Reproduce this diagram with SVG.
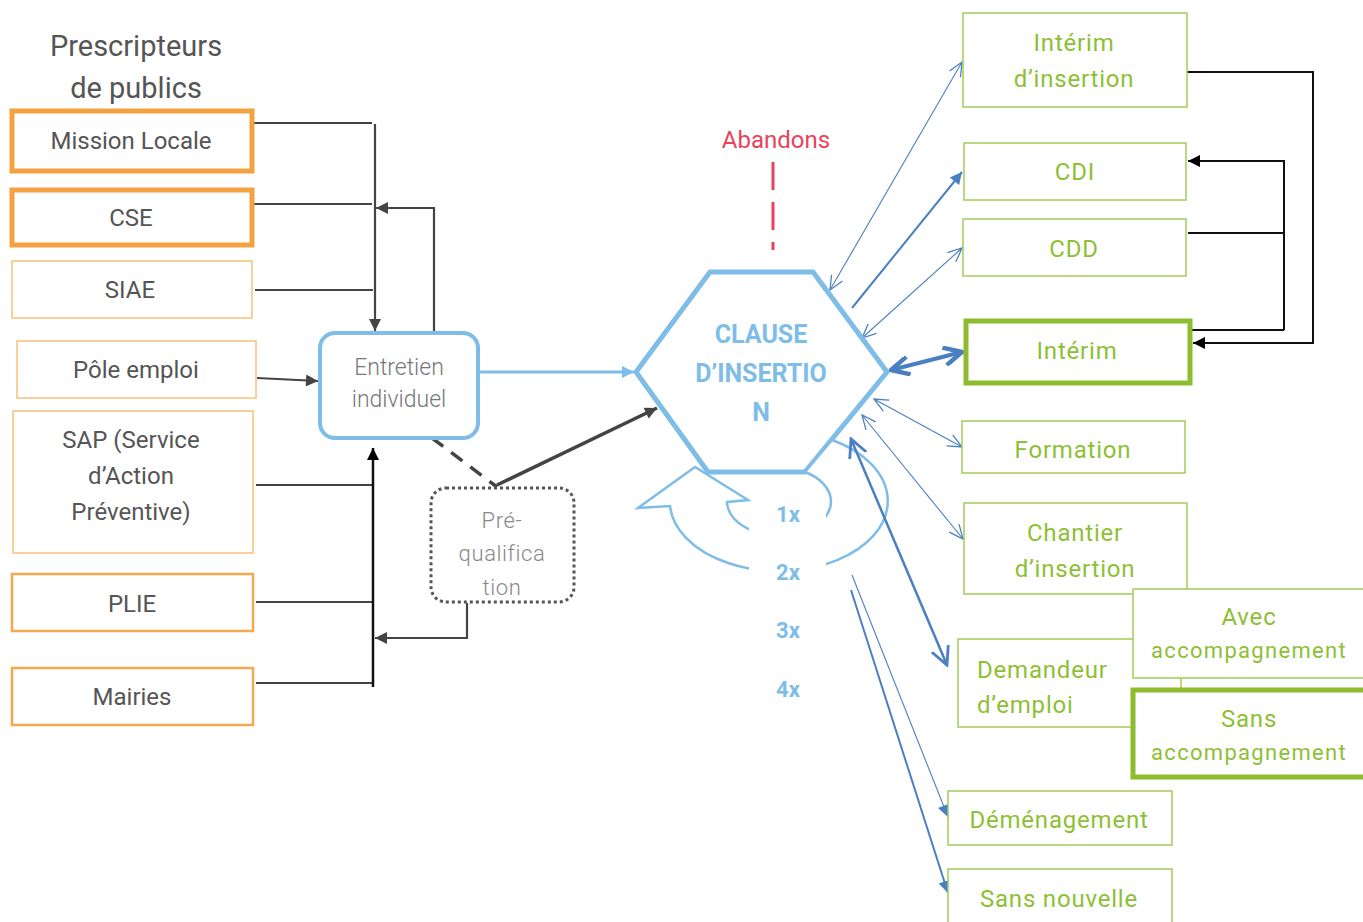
<svg xmlns="http://www.w3.org/2000/svg" width="1363" height="922" viewBox="0 0 1363 922">
<style>
.t{font-family:Roboto,"Liberation Sans",sans-serif}
.gray{fill:#555;font-size:24px}
.green{fill:#8dbf35;font-size:24px;letter-spacing:0.8px}
.acc{font-size:22px;letter-spacing:1.3px}
.blueT{fill:#7dbde8;font-weight:bold}
.or1{fill:#fff;stroke:#f4a142;stroke-width:5}
.or2{fill:#fff;stroke:#f5a84e;stroke-width:2.5}
.or3{fill:#fff;stroke:#f9c07a;stroke-width:1.5}
.gr1{fill:#fff;stroke:#a3cc5a;stroke-width:1.5}
.gr2{fill:#fff;stroke:#8fbc2e;stroke-width:5}
.dk{stroke:#444;stroke-width:2.2;fill:none}
.bk{stroke:#111;stroke-width:2;fill:none}
.bl{stroke:#4a7fc1;fill:none}
</style>
<defs>
<marker id="aDark" viewBox="0 0 10 10" refX="10" refY="5" markerWidth="14" markerHeight="12" markerUnits="userSpaceOnUse" orient="auto"><path d="M0,0 L10,5 L0,10 z" fill="#444"/></marker>
<marker id="aBlack" viewBox="0 0 10 10" refX="10" refY="5" markerWidth="13" markerHeight="12" markerUnits="userSpaceOnUse" orient="auto"><path d="M0,0 L10,5 L0,10 z" fill="#000"/></marker>
<marker id="aLight" viewBox="0 0 10 10" refX="10" refY="5" markerWidth="14" markerHeight="12" markerUnits="userSpaceOnUse" orient="auto"><path d="M0,0 L10,5 L0,10 z" fill="#7dbde8"/></marker>
<marker id="aBlueF" viewBox="0 0 10 10" refX="10" refY="5" markerWidth="14" markerHeight="12" markerUnits="userSpaceOnUse" orient="auto"><path d="M0,0 L10,5 L0,10 z" fill="#4a7fc1"/></marker>
<marker id="aBlueO" viewBox="0 0 10 10" refX="10" refY="5" markerWidth="16" markerHeight="14" markerUnits="userSpaceOnUse" orient="auto-start-reverse"><path d="M0,0.5 L10,5 L0,9.5" fill="none" stroke="#4a7fc1" stroke-width="0.9"/></marker>
<marker id="aBlueO2" viewBox="0 0 10 10" refX="9" refY="5" markerWidth="20" markerHeight="20" markerUnits="userSpaceOnUse" orient="auto-start-reverse"><path d="M0,0.5 L9,5 L0,9.5" fill="none" stroke="#4a7fc1" stroke-width="1.4"/></marker>
<marker id="aBlueB" viewBox="0 0 10 10" refX="9" refY="5" markerWidth="22" markerHeight="20" markerUnits="userSpaceOnUse" orient="auto-start-reverse"><path d="M0,0.5 L9,5 L0,9.5" fill="none" stroke="#4a7fc1" stroke-width="2.2" stroke-linejoin="round"/></marker>
</defs>

<text class="t" x="136" y="56" text-anchor="middle" style="fill:#555;font-size:29px">Prescripteurs</text>
<text class="t" x="136" y="98" text-anchor="middle" style="fill:#555;font-size:29px">de publics</text>

<g id="connectors">
<path class="dk" d="M253,123 H372"/>
<path class="dk" d="M375,124 V331" marker-end="url(#aDark)"/>
<path class="dk" d="M254,204 H372"/>
<path class="dk" d="M434,332 V208 H376" marker-end="url(#aDark)"/>
<path class="dk" d="M255,290 H373"/>
<path class="dk" d="M257,378 L318,381" marker-end="url(#aDark)"/>
<path class="dk" d="M256,485 H372"/>
<path class="dk" d="M256,602 H372"/>
<path class="dk" d="M256,683 H373"/>
<path d="M373,687 V448" stroke="#111" stroke-width="2.5" fill="none" marker-end="url(#aBlack)"/>
<path class="dk" d="M467,603 V638 H375" marker-end="url(#aDark)"/>
<path d="M432,438 L497,487" stroke="#444" stroke-width="3.5" stroke-dasharray="14 10" fill="none"/>
<path d="M497,485 L657,408" stroke="#444" stroke-width="3.5" fill="none" marker-end="url(#aDark)"/>
<path d="M479,372 L634,372" stroke="#7dbde8" stroke-width="3" fill="none" marker-end="url(#aLight)"/>
<path d="M773,162 V250" stroke="#e8435a" stroke-width="3" stroke-dasharray="28 12" fill="none"/>
<path class="bl" stroke-width="1.1" d="M830,290 L962,62" marker-start="url(#aBlueO)" marker-end="url(#aBlueO)"/>
<path class="bl" stroke-width="2" d="M852,308 L962,172" marker-end="url(#aBlueF)"/>
<path class="bl" stroke-width="1.1" d="M862,338 L962,248" marker-start="url(#aBlueO)" marker-end="url(#aBlueO)"/>
<path class="bl" stroke-width="1.1" d="M874,399 L962,447" marker-start="url(#aBlueO)" marker-end="url(#aBlueO)"/>
<path class="bl" stroke-width="1.1" d="M862,415 L963,539" marker-start="url(#aBlueO)" marker-end="url(#aBlueO)"/>
<path class="bl" stroke-width="1.1" d="M852,575 L948,817" marker-end="url(#aBlueF)"/>
<path class="bl" stroke-width="2" d="M851,590 L948,893" marker-end="url(#aBlueF)"/>
<path class="bk" d="M1185,72 H1313 V343 H1193" marker-end="url(#aBlack)"/>
<path class="bk" d="M1188,233 H1284"/>
<path class="bk" d="M1284,330 V161 H1188" marker-end="url(#aBlack)"/>
<path class="bk" d="M1284,330 H1190"/>
</g>

<g id="mission-locale"><rect class="or1" x="12" y="111" width="240" height="60"/><text class="t gray" x="131" y="149" text-anchor="middle">Mission Locale</text></g>
<g id="cse"><rect class="or1" x="12" y="190" width="240" height="55"/><text class="t gray" x="131" y="226" text-anchor="middle">CSE</text></g>
<g id="siae"><rect class="or3" x="12" y="261" width="240" height="57"/><text class="t gray" x="130" y="298" text-anchor="middle">SIAE</text></g>
<g id="pole-emploi"><rect class="or3" x="17" y="341" width="239" height="57"/><text class="t gray" x="136" y="378" text-anchor="middle">Pôle emploi</text></g>
<g id="sap"><rect class="or3" x="13" y="411" width="240" height="142"/>
<text class="t gray" x="131" y="448" text-anchor="middle">SAP (Service</text>
<text class="t gray" x="131" y="484" text-anchor="middle">d’Action</text>
<text class="t gray" x="131" y="520" text-anchor="middle">Préventive)</text></g>
<g id="plie"><rect class="or2" x="12" y="574" width="241" height="57"/><text class="t gray" x="132" y="612" text-anchor="middle">PLIE</text></g>
<g id="mairies"><rect class="or2" x="12" y="668" width="241" height="57"/><text class="t gray" x="132" y="705" text-anchor="middle">Mairies</text></g>

<g id="entretien"><rect x="320" y="333" width="158" height="105" rx="15" fill="#fff" stroke="#7dbde8" stroke-width="4"/>
<text class="t" x="399" y="375" text-anchor="middle" style="fill:#777;font-size:23px;font-weight:300">Entretien</text>
<text class="t" x="399" y="407" text-anchor="middle" style="fill:#777;font-size:23px;font-weight:300">individuel</text></g>

<g id="prequalification"><rect x="431" y="488" width="143" height="114" rx="15" fill="#fff" stroke="#555" stroke-width="3" stroke-dasharray="3 3"/>
<text class="t" x="502" y="528" text-anchor="middle" style="fill:#888;font-size:22px;font-weight:300;letter-spacing:0.6px">Pré-</text>
<text class="t" x="502" y="561" text-anchor="middle" style="fill:#888;font-size:22px;font-weight:300;letter-spacing:0.6px">qualifica</text>
<text class="t" x="502" y="595" text-anchor="middle" style="fill:#888;font-size:22px;font-weight:300;letter-spacing:0.6px">tion</text></g>

<g id="abandons"><text class="t" x="776" y="148" text-anchor="middle" style="fill:#e8435a;font-size:24px">Abandons</text></g>

<g id="clause"><polygon points="710,272 813,272 887,372 805,472 708,472 636,372" fill="#fff" stroke="#7dbde8" stroke-width="5" stroke-linejoin="miter"/>
<text class="t blueT" x="761" y="343" text-anchor="middle" font-size="25">CLAUSE</text>
<text class="t blueT" x="761" y="382" text-anchor="middle" font-size="25">D’INSERTIO</text>
<text class="t blueT" x="761" y="421" text-anchor="middle" font-size="25">N</text></g>

<g id="loop">
<path d="M727,502 L748,500 L695,467 L638,508 L670,506 A109,70 0 1 0 832,440 L805,472 A52,34 0 1 1 727,502 Z" fill="#fff" stroke="#7dbde8" stroke-width="2.5" stroke-linejoin="miter"/>
<rect x="749" y="501" width="77" height="200" fill="#fff"/>
<text class="t blueT" x="788" y="522" text-anchor="middle" font-size="22">1x</text>
<text class="t blueT" x="788" y="580" text-anchor="middle" font-size="22">2x</text>
<text class="t blueT" x="788" y="638" text-anchor="middle" font-size="22">3x</text>
<text class="t blueT" x="788" y="697" text-anchor="middle" font-size="22">4x</text>
</g>

<g id="interim-bold-arrow"><path class="bl" stroke-width="4" d="M891,370 L962,352" marker-start="url(#aBlueB)" marker-end="url(#aBlueB)"/></g>
<g id="demandeur-arrow"><path class="bl" stroke-width="2.5" d="M851,439 L947,665" marker-start="url(#aBlueO2)" marker-end="url(#aBlueO2)"/></g>

<g id="interim-insertion"><rect class="gr1" x="963" y="13" width="224" height="94"/>
<text class="t green" x="1074" y="51" text-anchor="middle">Intérim</text>
<text class="t green" x="1074" y="87" text-anchor="middle">d’insertion</text></g>
<g id="cdi"><rect class="gr1" x="964" y="143" width="222" height="57"/><text class="t green" x="1075" y="180" text-anchor="middle">CDI</text></g>
<g id="cdd"><rect class="gr1" x="963" y="219" width="223" height="57"/><text class="t green" x="1074" y="257" text-anchor="middle">CDD</text></g>
<g id="interim"><rect class="gr2" x="966" y="321" width="224" height="62"/><text class="t green" x="1077" y="359" text-anchor="middle">Intérim</text></g>
<g id="formation"><rect class="gr1" x="962" y="421" width="223" height="52"/><text class="t green" x="1073" y="458" text-anchor="middle">Formation</text></g>
<g id="chantier"><rect class="gr1" x="964" y="503" width="223" height="91"/>
<text class="t green" x="1075" y="541" text-anchor="middle">Chantier</text>
<text class="t green" x="1075" y="577" text-anchor="middle">d’insertion</text></g>
<g id="demandeur"><rect class="gr1" x="958" y="639" width="223" height="88"/>
<text class="t green" x="977" y="678">Demandeur</text>
<text class="t green" x="977" y="713">d’emploi</text></g>
<g id="avec"><rect class="gr1" x="1133" y="589" width="240" height="89"/>
<text class="t green" x="1249" y="625" text-anchor="middle">Avec</text>
<text class="t green acc" x="1249" y="658" text-anchor="middle">accompagnement</text></g>
<g id="sans"><rect class="gr2" x="1133" y="690" width="240" height="87"/>
<text class="t green" x="1249" y="727" text-anchor="middle">Sans</text>
<text class="t green acc" x="1249" y="760" text-anchor="middle">accompagnement</text></g>
<g id="demenagement"><rect class="gr1" x="948" y="791" width="224" height="54"/><text class="t green" x="1059" y="828" text-anchor="middle">Déménagement</text></g>
<g id="sans-nouvelle"><rect class="gr1" x="948" y="869" width="224" height="70"/><text class="t green" x="1059" y="907" text-anchor="middle">Sans nouvelle</text></g>
</svg>
